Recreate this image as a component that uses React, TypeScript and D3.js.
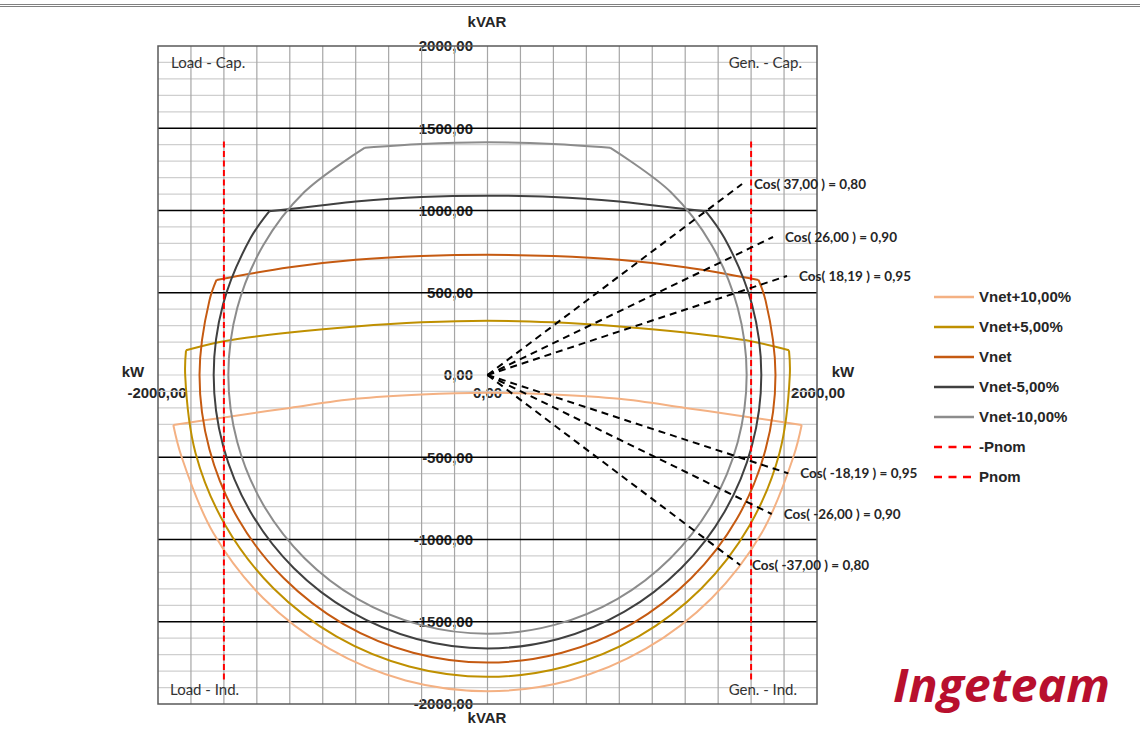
import React from 'react';
import * as d3 from 'd3';

// ---------- data (kW, kVAR) ----------
const seriesNames = ['Vnet+10,00%', 'Vnet+5,00%', 'Vnet', 'Vnet-5,00%', 'Vnet-10,00%'];
const seriesColors = ['#F4B183', '#BF9000', '#C55A11', '#404040', '#8C8C8C'];

const vPlus10Top: [number, number][] = [[-1907, -304], [-1600, -258], [-1200, -200], [-800, -145], [-400, -118], [0, -108], [400, -118], [800, -145], [1200, -200], [1600, -258], [1907, -304]];
const vPlus10Arc: [number, number][] = [[1907, -304], [1857, -497], [1664, -961], [1359, -1359], [961, -1664], [497, -1857], [0, -1922], [-497, -1857], [-961, -1664], [-1359, -1359], [-1664, -961], [-1857, -497], [-1907, -304]];

const vPlus5Top: [number, number][] = [[-1830, 150], [-1600, 205], [-1200, 258], [-800, 295], [-400, 320], [0, 330], [400, 320], [800, 295], [1200, 258], [1600, 205], [1830, 150]];
const vPlus5Arc: [number, number][] = [[1830, 150], [1835, 0], [1772, -475], [1589, -918], [1298, -1298], [918, -1589], [475, -1772], [0, -1835], [-475, -1772], [-918, -1589], [-1298, -1298], [-1589, -918], [-1772, -475], [-1835, 0], [-1830, 150]];

const vNetTop: [number, number][] = [[-1645, 578], [-1200, 655], [-800, 700], [-400, 723], [0, 731], [400, 723], [800, 700], [1200, 655], [1645, 578]];
const vNetArc: [number, number][] = [[1645, 578], [1688, 452], [1748, 0], [1688, -452], [1514, -874], [1236, -1236], [874, -1514], [452, -1688], [0, -1748], [-452, -1688], [-874, -1514], [-1236, -1236], [-1514, -874], [-1688, -452], [-1748, 0], [-1688, 452], [-1645, 578]];

const vMinus5Top: [number, number][] = [[-1325, 995], [-1000, 1032], [-800, 1054], [-400, 1082], [0, 1090], [400, 1082], [800, 1054], [1000, 1032], [1325, 995]];
const vMinus5Arc: [number, number][] = [[1325, 995], [1439, 831], [1605, 430], [1662, 0], [1605, -430], [1439, -831], [1175, -1175], [831, -1439], [430, -1605], [0, -1662], [-430, -1605], [-831, -1439], [-1175, -1175], [-1439, -831], [-1605, -430], [-1662, 0], [-1605, 430], [-1439, 831], [-1325, 995]];

const vMinus10Top: [number, number][] = [[-744, 1382], [-400, 1405], [0, 1415], [400, 1405], [744, 1382]];
const vMinus10Arc: [number, number][] = [[744, 1382], [1112, 1112], [1362, 787], [1519, 407], [1573, 0], [1519, -407], [1362, -787], [1112, -1112], [787, -1362], [407, -1519], [0, -1573], [-407, -1519], [-787, -1362], [-1112, -1112], [-1362, -787], [-1519, -407], [-1573, 0], [-1519, 407], [-1362, 787], [-1112, 1112], [-744, 1382]];

const pnomNames = ['-Pnom', 'Pnom'];
const pnomLines: [number, number][][] = [[[-1600, 1420], [-1600, -1855]], [[1600, 1420], [1600, -1855]]];

const cosLabels = ['Cos( 37,00 ) = 0,80', 'Cos( 26,00 ) = 0,90', 'Cos( 18,19 ) = 0,95', 'Cos( -18,19 ) = 0,95', 'Cos( -26,00 ) = 0,90', 'Cos( -37,00 ) = 0,80'];
const cosEnds: [number, number][] = [[1545, 1161], [1733, 839], [1818, 602], [1826, -598], [1725, -845], [1533, -1155]];

const qTicks = [2000, 1500, 1000, 500, 0, -500, -1000, -1500, -2000];
const pTicks = [-2000, 0, 2000];
const quadrantLabels = ['Load - Cap.', 'Gen. - Cap.', 'Load - Ind.', 'Gen. - Ind.'];

// ---------- layout ----------
const W = 1140, H = 738;
const x = d3.scaleLinear().domain([-2000, 2000]).range([158, 817]);
const y = d3.scaleLinear().domain([-2000, 2000]).range([704, 46]);
const fmt = d3.formatLocale({ decimal: ',', thousands: '.', grouping: [3], currency: ['', ''], minus: '-' }).format('.2f');

const curveLine = d3.line<[number, number]>().x(d => x(d[0])).y(d => y(d[1])).curve(d3.curveCatmullRom.alpha(0.5));
const straight = d3.line<[number, number]>().x(d => x(d[0])).y(d => y(d[1]));

const SANS = '"Liberation Sans", Arial, sans-serif';
const CAL = 'Lato, "Open Sans", sans-serif';

export default function App() {
  const series = [
    [vPlus10Top, vPlus10Arc],
    [vPlus5Top, vPlus5Arc],
    [vNetTop, vNetArc],
    [vMinus5Top, vMinus5Arc],
    [vMinus10Top, vMinus10Arc],
  ];
  const vGrid = d3.range(-1800, 2000, 200);
  const hMinor = d3.range(-1900, 2000, 100).filter(v => v % 500 !== 0 || v === 0);
  const hMajor = [1500, 1000, 500, -500, -1000, -1500];
  const legendRows = [297, 327, 357, 387, 417, 447, 477];

  return (
    <svg width={W} height={H} style={{ position: 'absolute', left: 0, top: 0, background: '#fff' }}>
      <rect x={0} y={0} width={W} height={H} fill="#fff" />
      {/* outer frame lines */}
      <line x1={0} x2={W} y1={4.5} y2={4.5} stroke="#808080" strokeWidth={1} />
      <line x1={0} x2={W} y1={6.5} y2={6.5} stroke="#808080" strokeWidth={1} />

      {/* tick labels (under grid) */}
      {qTicks.map(q => (
        <text key={'q' + q} x={473} y={y(q)} dy="0.35em" textAnchor="end" fontFamily={SANS} fontWeight="bold" fontSize={15} fill="#262626">{fmt(q)}</text>
      ))}
      {pTicks.map(p => (
        <text key={'p' + p} x={p === 0 ? x(p) : x(p) + (p < 0 ? -1 : 1)} y={393} dy="0.35em" textAnchor="middle" fontFamily={SANS} fontWeight="bold" fontSize={15} fill="#262626">{fmt(p)}</text>
      ))}

      {/* grid */}
      {hMinor.map(q => (
        <line key={'hm' + q} x1={158} x2={817} y1={y(q)} y2={y(q)} stroke="#cfcfcf" strokeWidth={1.2} />
      ))}
      {vGrid.map(p => (
        <line key={'v' + p} x1={x(p)} x2={x(p)} y1={46} y2={704} stroke="#a6a6a6" strokeWidth={1.2} />
      ))}
      {hMajor.map(q => (
        <line key={'hM' + q} x1={158} x2={817} y1={y(q)} y2={y(q)} stroke="#000" strokeWidth={1.3} />
      ))}
      <rect x={158} y={46} width={659} height={658} fill="none" stroke="#595959" strokeWidth={1.5} />

      {/* quadrant labels */}
      <text x={171} y={63} dy="0.35em" fontFamily={CAL} fontSize={15} fill="#333">{quadrantLabels[0]}</text>
      <text x={802} y={63} dy="0.35em" textAnchor="end" fontFamily={CAL} fontSize={15} fill="#333">{quadrantLabels[1]}</text>
      <text x={170} y={690} dy="0.35em" fontFamily={CAL} fontSize={15} fill="#333">{quadrantLabels[2]}</text>
      <text x={797} y={690} dy="0.35em" textAnchor="end" fontFamily={CAL} fontSize={15} fill="#333">{quadrantLabels[3]}</text>

      {/* capability curves */}
      {series.map((s, i) => (
        <g key={'s' + i} fill="none" stroke={seriesColors[i]} strokeWidth={2} strokeLinejoin="round">
          <path d={curveLine(s[0]) || ''} />
          <path d={curveLine(s[1]) || ''} />
        </g>
      ))}

      {/* Pnom */}
      {pnomLines.map((l, i) => (
        <path key={'pn' + i} d={straight(l) || ''} fill="none" stroke="#FF0000" strokeWidth={2} strokeDasharray="6,3.5" />
      ))}

      {/* power factor lines */}
      {cosEnds.map((e, i) => (
        <g key={'c' + i}>
          <path d={straight([[0, 0], e]) || ''} fill="none" stroke="#000" strokeWidth={2} strokeDasharray="7,5" />
          <text x={x(e[0]) + 12} y={y(e[1])} dy="0.35em" fontFamily={CAL} fontWeight="bold" fontSize={13.5} fill="#262626">{cosLabels[i]}</text>
        </g>
      ))}

      {/* axis titles */}
      <text x={487} y={22} dy="0.35em" textAnchor="middle" fontFamily={SANS} fontWeight="bold" fontSize={15} fill="#262626">kVAR</text>
      <text x={487} y={718} dy="0.35em" textAnchor="middle" fontFamily={SANS} fontWeight="bold" fontSize={15} fill="#262626">kVAR</text>
      <text x={133} y={372} dy="0.35em" textAnchor="middle" fontFamily={SANS} fontWeight="bold" fontSize={15} fill="#262626">kW</text>
      <text x={843} y={372} dy="0.35em" textAnchor="middle" fontFamily={SANS} fontWeight="bold" fontSize={15} fill="#262626">kW</text>

      {/* legend */}
      {seriesNames.map((n, i) => (
        <g key={'l' + i}>
          <line x1={934} x2={974} y1={legendRows[i]} y2={legendRows[i]} stroke={seriesColors[i]} strokeWidth={2.5} />
          <text x={979} y={legendRows[i]} dy="0.35em" fontFamily={SANS} fontWeight="bold" fontSize={15} fill="#262626">{n}</text>
        </g>
      ))}
      {pnomNames.map((n, i) => (
        <g key={'lp' + i}>
          <line x1={934} x2={974} y1={legendRows[5 + i]} y2={legendRows[5 + i]} stroke="#FF0000" strokeWidth={2.5} strokeDasharray="8,6.5" />
          <text x={979} y={legendRows[5 + i]} dy="0.35em" fontFamily={SANS} fontWeight="bold" fontSize={15} fill="#262626">{n}</text>
        </g>
      ))}

      {/* logo */}
      <text x={893} y={702} fontFamily='"Open Sans", "Liberation Sans", sans-serif' fontStyle="italic" fontWeight="bold" fontSize={47} fill="#B80F2E" textLength={217} lengthAdjust="spacingAndGlyphs">Ingeteam</text>
    </svg>
  );
}
